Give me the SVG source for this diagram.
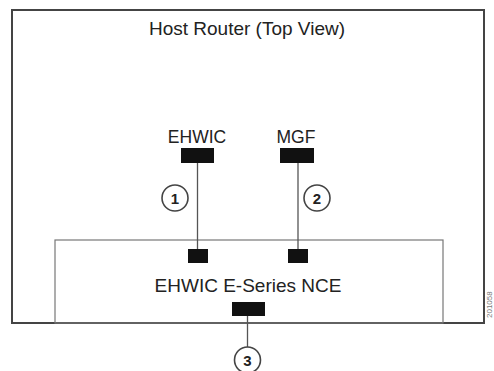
<svg xmlns="http://www.w3.org/2000/svg" width="494" height="371" viewBox="0 0 494 371">
<style>
.lbl{font-family:"Liberation Sans",Arial,sans-serif;fill:#222;text-anchor:middle}
.num{font-family:"Liberation Sans",Arial,sans-serif;font-weight:bold;font-size:15px;fill:#222;text-anchor:middle}
.port{fill:#111}
.wire{stroke:#555;stroke-width:1.3;fill:none}
.callout{fill:#fff;stroke:#444;stroke-width:1.6}
</style>
<rect width="494" height="371" fill="#fff"/>
<g id="host-router">
<rect x="12" y="10" width="472" height="313" fill="#fff" stroke="#444" stroke-width="2"/>
<text class="lbl" x="247" y="35" font-size="19">Host Router (Top View)</text>
</g>
<g id="nce">
<rect x="55" y="240" width="388" height="83" fill="none" stroke="#777" stroke-width="1.2"/>
<text class="lbl" x="248" y="292" font-size="19">EHWIC E-Series NCE</text>
</g>
<g id="ehwic">
<text class="lbl" x="197" y="143" font-size="17.5">EHWIC</text>
<rect class="port" x="181" y="148" width="33" height="15"/>
</g>
<g id="mgf">
<text class="lbl" x="296" y="143" font-size="17.5">MGF</text>
<rect class="port" x="280" y="148" width="34" height="15"/>
</g>
<g id="nce-port1"><rect class="port" x="188" y="249" width="20" height="14"/></g>
<g id="nce-port2"><rect class="port" x="288" y="249" width="20" height="14"/></g>
<g id="nce-port3"><rect class="port" x="232" y="302" width="33" height="14"/></g>
<g id="connectors">
<line class="wire" x1="197.5" y1="163" x2="197.5" y2="249"/>
<line class="wire" x1="298" y1="163" x2="298" y2="249"/>
<line class="wire" x1="247.5" y1="316" x2="247.5" y2="347"/>
</g>
<g id="callout1"><circle class="callout" cx="175" cy="198" r="13"/><text class="num" x="175" y="203.5">1</text></g>
<g id="callout2"><circle class="callout" cx="317" cy="198" r="13"/><text class="num" x="317" y="203.5">2</text></g>
<g id="callout3"><circle class="callout" cx="247.5" cy="360" r="13"/><text class="num" x="247.5" y="365.5">3</text></g>
<text x="492" y="318" transform="rotate(-90 492 318)" font-family="Liberation Sans,Arial,sans-serif" font-size="8" fill="#777">201058</text>
</svg>
